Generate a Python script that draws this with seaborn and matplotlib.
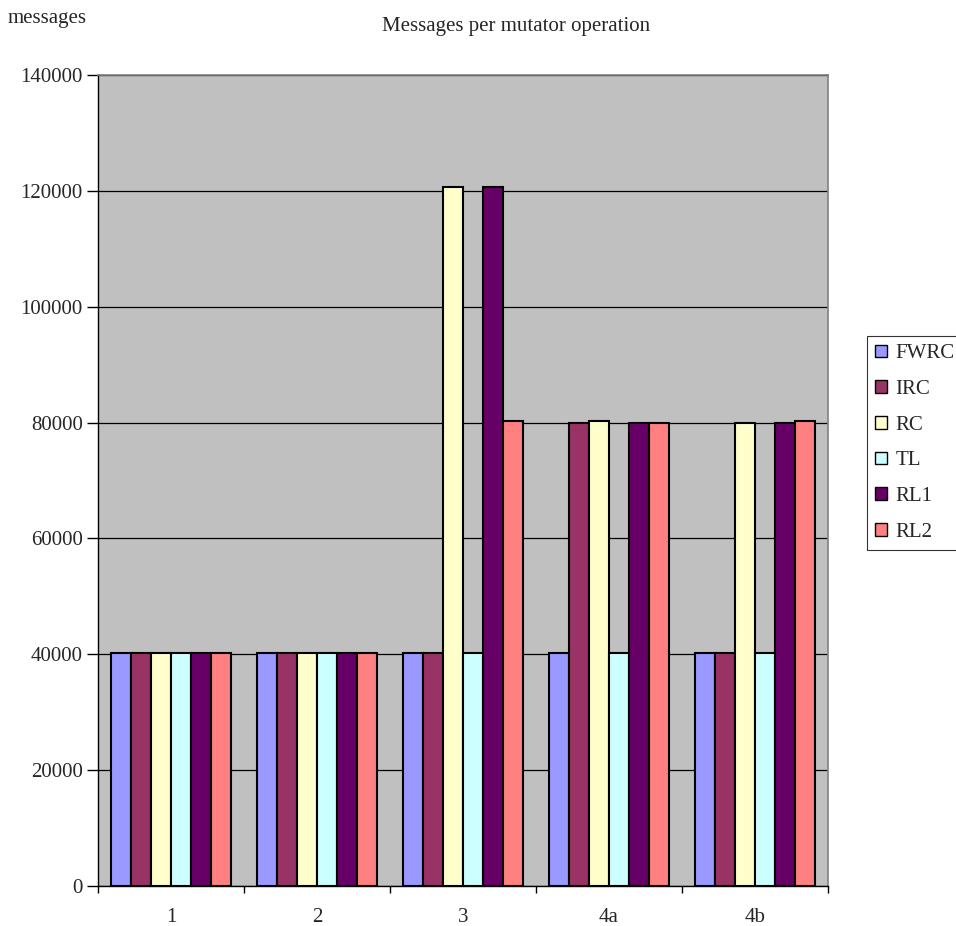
import matplotlib
matplotlib.use("Agg")
import matplotlib.pyplot as plt
from matplotlib.patches import Patch
from matplotlib.ticker import MultipleLocator, FixedLocator
import seaborn as sns
import pandas as pd

operations = ["1", "2", "3", "4a", "4b"]
protocols = ["FWRC", "IRC", "RC", "TL", "RL1", "RL2"]
fwrc = [40300, 40300, 40300, 40300, 40300]
irc = [40300, 40300, 40300, 80000, 40300]
rc = [40300, 40300, 120600, 80300, 80000]
tl = [40300, 40300, 40300, 40300, 40300]
rl1 = [40200, 40300, 120600, 80000, 80000]
rl2 = [40300, 40300, 80300, 80000, 80300]
colors = ["#9999FF", "#993366", "#FFFFCC", "#CCFFFF", "#660066", "#FF8080"]

series = dict(zip(protocols, [fwrc, irc, rc, tl, rl1, rl2]))
rows = []
for name, vals in series.items():
    for op, v in zip(operations, vals):
        rows.append({"operation": op, "protocol": name, "messages": v})
df = pd.DataFrame(rows)

sns.set_style("white")
plt.rcParams["font.family"] = ["Liberation Serif", "DejaVu Serif"]
FS = 15

fig = plt.figure(figsize=(9.56, 9.26), dpi=100)
ax = fig.add_axes([98 / 956, 1 - 886 / 926, 730 / 956, 811 / 926])
ax.set_facecolor("#C0C0C0")

sns.barplot(data=df, x="operation", y="messages", hue="protocol",
            order=operations, hue_order=protocols, palette=colors,
            width=0.82, saturation=1, edgecolor="black", linewidth=1.5,
            ax=ax, legend=False, zorder=3)

ax.set_ylim(0, 140000)
ax.set_xlim(-0.5, 4.5)
ax.yaxis.set_major_locator(MultipleLocator(20000))
ax.grid(axis="y", color="black", linewidth=0.9, zorder=1)
ax.set_axisbelow(True)

ax.set_xlabel("")
ax.set_ylabel("")
ax.tick_params(axis="x", which="major", length=0, pad=16, labelsize=FS)
ax.xaxis.set_minor_locator(FixedLocator([-0.5, 0.5, 1.5, 2.5, 3.5, 4.5]))
ax.tick_params(axis="x", which="minor", length=5, width=1, color="black", direction="out")
ax.tick_params(axis="y", length=8, width=1, color="black", direction="out", pad=3, labelsize=FS)
ax.tick_params(left=True, bottom=True, which="both")

for side in ["top", "right"]:
    ax.spines[side].set_color("#808080")
    ax.spines[side].set_linewidth(1.2)
for side in ["left", "bottom"]:
    ax.spines[side].set_color("black")
    ax.spines[side].set_linewidth(1.0)

fig.text(516 / 956, 1 - 27 / 926, "Messages per mutator operation",
         ha="center", va="center", fontsize=FS)
fig.text(8 / 956, 1 - 18 / 926, "messages", ha="left", va="center", fontsize=FS)

handles = [Patch(facecolor=c, edgecolor="black", linewidth=1.0) for c in colors]
leg = fig.legend(handles, protocols, loc="upper left",
                 bbox_to_anchor=(867 / 956, 1 - 336 / 926),
                 frameon=True, fancybox=False, edgecolor="black",
                 fontsize=FS, handlelength=0.55, handleheight=0.55,
                 handletextpad=0.4, labelspacing=0.8, borderpad=0.4,
                 borderaxespad=0)
leg.get_frame().set_linewidth(0.8)

fig.savefig("out.png", dpi=100, facecolor="white")
